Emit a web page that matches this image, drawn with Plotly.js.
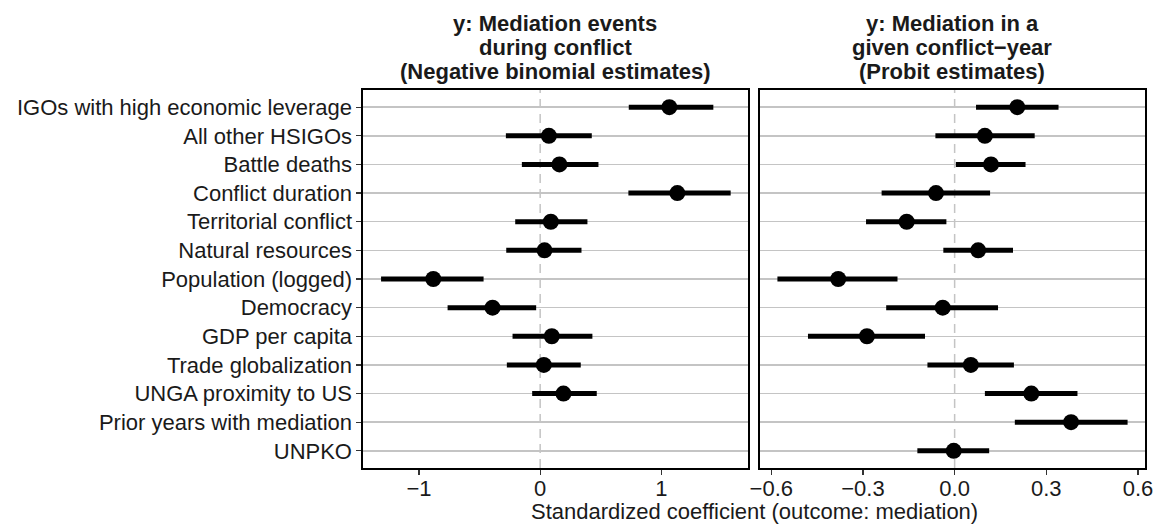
<!DOCTYPE html>
<html>
<head>
<meta charset="utf-8">
<script src="https://cdn.plot.ly/plotly-3.0.1.min.js"></script>
<style>html,body{margin:0;padding:0;background:#fff;}#chart{width:1156px;height:525px;}</style>
</head>
<body>
<div id="chart"></div>
<script>
// Terms (top to bottom)
var terms = [
  "IGOs with high economic leverage",
  "All other HSIGOs",
  "Battle deaths",
  "Conflict duration",
  "Territorial conflict",
  "Natural resources",
  "Population (logged)",
  "Democracy",
  "GDP per capita",
  "Trade globalization",
  "UNGA proximity to US",
  "Prior years with mediation",
  "UNPKO"
];

// Negative binomial model (first 11 terms)
var nbTerms = terms.slice(0, 11);
var nbEst = [1.066, 0.072, 0.159, 1.132, 0.088, 0.036, -0.882, -0.393, 0.096, 0.030, 0.192];
var nbLo  = [0.731, -0.283, -0.151, 0.728, -0.206, -0.280, -1.313, -0.764, -0.228, -0.275, -0.066];
var nbHi  = [1.429, 0.426, 0.481, 1.572, 0.390, 0.341, -0.467, -0.033, 0.431, 0.335, 0.467];

// Probit model (all 13 terms)
var prEst = [0.205, 0.099, 0.119, -0.061, -0.157, 0.077, -0.381, -0.039, -0.287, 0.053, 0.251, 0.381, -0.003];
var prLo  = [0.070, -0.063, 0.004, -0.239, -0.290, -0.037, -0.580, -0.224, -0.480, -0.089, 0.099, 0.197, -0.122];
var prHi  = [0.340, 0.262, 0.232, 0.116, -0.027, 0.191, -0.187, 0.142, -0.097, 0.194, 0.402, 0.566, 0.113];

// Tick values
var nbTicks = [-1, 0, 1];
var prTicks = [-0.6, -0.3, 0, 0.3, 0.6];

// Panel titles and axis title
var panelTitles = [
  ["y: Mediation events", "during conflict", "(Negative binomial estimates)"],
  ["y: Mediation in a", "given conflict\u2212year", "(Probit estimates)"]
];
var xTitle = "Standardized coefficient (outcome: mediation)";

function diff(a, b) { return a.map(function (v, i) { return v - b[i]; }); }

var FONT = "Liberation Sans, Arial, Helvetica, sans-serif";
var FS = 22;
var TXT = "#1a1a1a";

var traces = [
  {
    type: "scatter", mode: "markers",
    x: nbEst, y: nbTerms, xaxis: "x", yaxis: "y",
    marker: { color: "black", size: 16 },
    error_x: { type: "data", symmetric: false, array: diff(nbHi, nbEst), arrayminus: diff(nbEst, nbLo),
               color: "black", thickness: 5, width: 0 },
    showlegend: false, hoverinfo: "x+y"
  },
  {
    type: "scatter", mode: "markers",
    x: prEst, y: terms, xaxis: "x2", yaxis: "y2",
    marker: { color: "black", size: 16 },
    error_x: { type: "data", symmetric: false, array: diff(prHi, prEst), arrayminus: diff(prEst, prLo),
               color: "black", thickness: 5, width: 0 },
    showlegend: false, hoverinfo: "x+y"
  }
];

var W = 1156, H = 525;
var mL = 363, mR = 11, mT = 90, mB = 57;
var pw = W - mL - mR, ph = H - mT - mB;
function px2paperX(p) { return (p - mL) / pw; }
function px2paperY(p) { return (H - mB - p) / ph; }

var common = {
  showline: true, mirror: true, linecolor: "black", linewidth: 1.6,
  zeroline: false, tickfont: { family: FONT, size: FS, color: TXT },
  ticks: "outside", ticklen: 5, tickwidth: 1.2, tickcolor: "#333"
};

var annotations = [];
var centers = [px2paperX(555), px2paperX(952)];
var lineY = [23, 47, 72];
for (var p = 0; p < 2; p++) {
  for (var l = 0; l < 3; l++) {
    annotations.push({
      xref: "paper", yref: "paper", x: centers[p], y: px2paperY(lineY[l]),
      xanchor: "center", yanchor: "middle", showarrow: false,
      text: "<b>" + panelTitles[p][l] + "</b>",
      font: { family: FONT, size: FS, color: TXT }
    });
  }
}
annotations.push({
  xref: "paper", yref: "paper", x: px2paperX(754), y: px2paperY(511),
  xanchor: "center", yanchor: "middle", showarrow: false,
  text: xTitle, font: { family: FONT, size: FS, color: TXT }
});

var layout = {
  width: W, height: H,
  margin: { l: mL, r: mR, t: mT, b: mB, pad: 0 },
  paper_bgcolor: "white", plot_bgcolor: "white",
  font: { family: FONT, size: FS, color: TXT },
  showlegend: false,
  xaxis: Object.assign({}, common, {
    domain: [0, px2paperX(748)], anchor: "y",
    range: [-1.462, 1.715], tickvals: nbTicks, showgrid: false, ticklabelstandoff: -5
  }),
  xaxis2: Object.assign({}, common, {
    domain: [px2paperX(760), 1], anchor: "y2",
    range: [-0.637, 0.623], tickvals: prTicks, tickformat: ".1f", showgrid: false, ticklabelstandoff: -5
  }),
  yaxis: Object.assign({}, common, {
    anchor: "x", type: "category", categoryorder: "array", categoryarray: terms,
    range: [12.6, -0.6], showgrid: true, gridcolor: "#c4c4c4", gridwidth: 1.5
  }),
  yaxis2: Object.assign({}, common, {
    anchor: "x2", type: "category", categoryorder: "array", categoryarray: terms,
    matches: "y", range: [12.6, -0.6], showgrid: true, gridcolor: "#c4c4c4", gridwidth: 1.5,
    showticklabels: false, ticks: ""
  }),
  shapes: [
    { type: "line", layer: "below", xref: "x", yref: "y domain", x0: 0, x1: 0, y0: 0, y1: 1,
      line: { color: "#c4c4c4", width: 1.5, dash: "9px,6px" } },
    { type: "line", layer: "below", xref: "x2", yref: "y2 domain", x0: 0, x1: 0, y0: 0, y1: 1,
      line: { color: "#c4c4c4", width: 1.5, dash: "9px,6px" } }
  ],
  annotations: annotations
};

Plotly.newPlot("chart", traces, layout, { staticPlot: true, displayModeBar: false });
</script>
</body>
</html>
